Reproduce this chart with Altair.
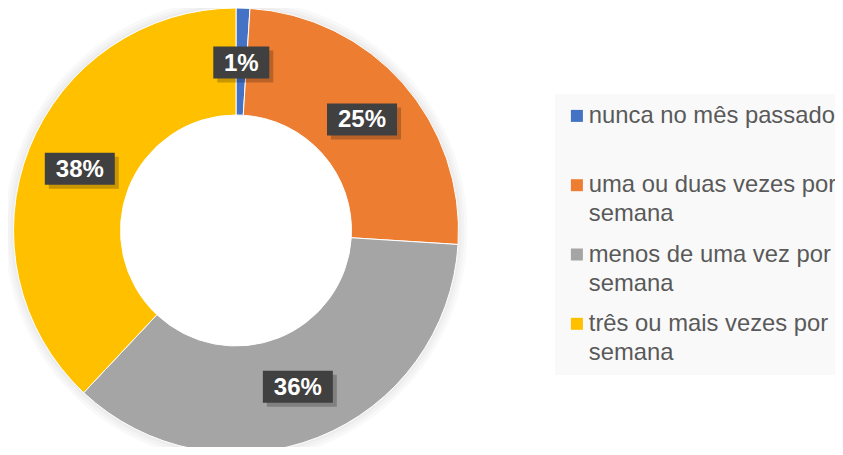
import altair as alt
import pandas as pd

categories = [
    "nunca no mês passado",
    "uma ou duas vezes por semana",
    "menos de uma vez por semana",
    "três ou mais vezes por semana",
]
values = [1, 25, 36, 38]
labels = ["1%", "25%", "36%", "38%"]
colors = ["#4472C4", "#ED7D31", "#A5A5A5", "#FFC000"]

df = pd.DataFrame({"cat": categories, "value": values, "label": labels, "idx": list(range(len(values)))})

W, H = 827, 439
CX, CY = 228, 222.5
R_OUT, R_IN, R_LAB = 222.5, 115.5, 168

base = alt.Chart(df)

legend = alt.Legend(
    title=None,
    orient="none",
    legendX=547,
    legendY=86,
    symbolType="square",
    symbolSize=144,
    symbolStrokeWidth=0,
    symbolOpacity=1,
    labelFontSize=23.8,
    labelFont="Liberation Sans",
    labelColor="#595959",
    labelLimit=400,
    labelOffset=0,
    rowPadding=15.3,
    padding=10,
    fillColor="#F9F9F9",
    labelExpr="split(indexof(datum.label, ' semana') >= 0 ? replace(datum.label, ' semana', '|semana') : datum.label + '| ', '|')",
)

glow = [base.mark_arc(radius=R_OUT + d, innerRadius=R_IN, color="black", opacity=0.025).encode(
    theta=alt.Theta("sum(value):Q"),
    x=alt.value(CX),
    y=alt.value(CY),
) for d in (3, 6, 9)]

arcs = base.mark_arc(radius=R_OUT, innerRadius=R_IN, stroke="white", strokeWidth=1).encode(
    theta=alt.Theta("value:Q", stack=True),
    color=alt.Color("cat:N", scale=alt.Scale(domain=categories, range=colors), legend=legend),
    order=alt.Order("idx:Q"),
    x=alt.value(CX),
    y=alt.value(CY),
)

pos = (
    base.transform_window(cum="sum(value)", sort=[alt.SortField("idx")], frame=[None, 0])
    .transform_joinaggregate(total="sum(value)")
    .transform_calculate(ang="2*PI*(datum.cum - datum.value/2)/datum.total")
    .transform_calculate(
        px=f"{CX} + {R_LAB}*sin(datum.ang)",
        py=f"{CY} - {R_LAB}*cos(datum.ang)",
        bw="14*length(datum.label) + 28",
    )
    .transform_calculate(
        x1="datum.px - datum.bw/2",
        x2="datum.px + datum.bw/2",
        y1="datum.py - 16",
        y2="datum.py + 16",
        sx1="datum.px - datum.bw/2 + 4",
        sx2="datum.px + datum.bw/2 + 4",
        sy1="datum.py - 12",
        sy2="datum.py + 20",
        ty="datum.py + 1",
    )
)

shadow = pos.mark_rect(color="black", opacity=0.22).encode(
    x=alt.X("sx1:Q", scale=None, axis=None),
    x2="sx2:Q",
    y=alt.Y("sy1:Q", scale=None, axis=None),
    y2="sy2:Q",
)

boxes = pos.mark_rect(color="#404040").encode(
    x=alt.X("x1:Q", scale=None, axis=None),
    x2="x2:Q",
    y=alt.Y("y1:Q", scale=None, axis=None),
    y2="y2:Q",
)

texts = pos.mark_text(
    font="Liberation Sans", fontSize=24, fontWeight="bold", color="white",
    align="center", baseline="middle",
).encode(
    x=alt.X("px:Q", scale=None, axis=None),
    y=alt.Y("ty:Q", scale=None, axis=None),
    text="label:N",
)

chart = (
    alt.layer(*glow, arcs, shadow, boxes, texts)
    .properties(width=W, height=H, padding=0, background="white",
                autosize=alt.AutoSizeParams(type="none"))
    .configure(style={"guide-label": {"lineHeight": 29}},
               view=alt.ViewConfig(stroke="transparent"))
)

chart.save("out.html", embed_options={"renderer": "svg", "actions": False})
